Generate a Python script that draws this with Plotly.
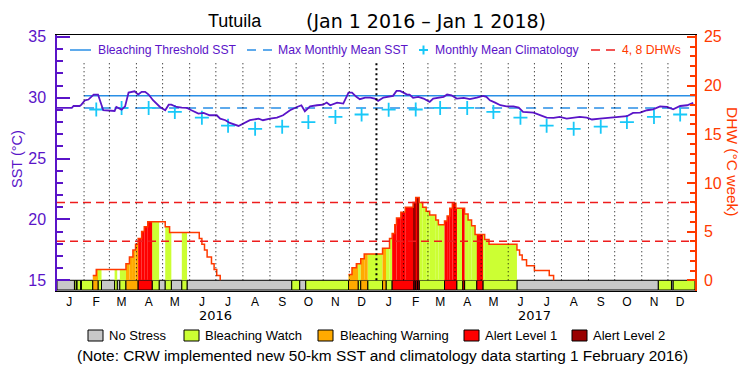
import plotly.graph_objects as go
import pandas as pd

# ---------------- data ----------------
sst_dates = [
    "2016-01-01", "2016-01-18", "2016-01-20", "2016-01-27", "2016-01-29", "2016-02-02", "2016-02-06",
    "2016-02-12", "2016-02-17", "2016-02-19", "2016-02-23", "2016-03-07", "2016-03-09", "2016-03-15",
    "2016-03-19", "2016-03-23", "2016-03-30", "2016-04-03", "2016-04-07", "2016-04-11", "2016-04-15",
    "2016-04-20", "2016-04-28", "2016-05-04", "2016-05-08", "2016-05-11", "2016-05-17", "2016-05-23",
    "2016-05-29", "2016-06-03", "2016-06-11", "2016-06-17", "2016-06-24", "2016-07-02", "2016-07-06",
    "2016-07-12", "2016-07-17", "2016-07-27", "2016-08-02", "2016-08-09", "2016-08-19", "2016-08-24",
    "2016-09-01", "2016-09-09", "2016-09-16", "2016-09-24", "2016-10-02", "2016-10-07", "2016-10-11",
    "2016-10-17", "2016-10-25", "2016-11-01", "2016-11-05", "2016-11-09", "2016-11-17", "2016-11-24",
    "2016-11-30", "2016-12-04", "2016-12-09", "2016-12-13", "2016-12-19", "2016-12-25", "2016-12-30",
    "2017-01-03", "2017-01-09", "2017-01-20", "2017-01-24", "2017-01-28", "2017-02-01", "2017-02-05",
    "2017-02-08", "2017-02-12", "2017-02-18", "2017-02-24", "2017-03-03", "2017-03-07", "2017-03-19",
    "2017-03-23", "2017-03-28", "2017-04-03", "2017-04-11", "2017-04-18", "2017-04-26", "2017-05-03",
    "2017-05-07", "2017-05-11", "2017-05-17", "2017-05-23", "2017-05-30", "2017-06-07", "2017-06-13",
    "2017-06-18", "2017-06-30", "2017-07-07", "2017-07-15", "2017-07-23", "2017-07-30", "2017-08-07",
    "2017-08-15", "2017-08-22", "2017-08-30", "2017-09-05", "2017-09-14", "2017-09-22", "2017-09-29",
    "2017-10-07", "2017-10-15", "2017-10-22", "2017-10-30", "2017-11-07", "2017-11-14", "2017-11-22",
    "2017-11-30", "2017-12-07", "2017-12-15", "2017-12-23", "2017-12-30",
]
sst_values = [
    29.16, 29.16, 29.32, 29.32, 29.43, 29.79, 29.85,
    30.26, 30.26, 29.79, 28.97, 28.91, 29.24, 29.02,
    29.29, 30.42, 30.53, 30.26, 30.48, 30.48, 30.26,
    29.79, 29.24, 28.97, 29.43, 29.43, 29.24, 29.19,
    29.16, 28.97, 28.69, 28.75, 28.56, 28.56, 28.28,
    28.15, 27.93, 27.68, 27.87, 28.15, 28.28, 28.15,
    28.28, 28.37, 28.56, 28.97, 29.24, 29.38, 28.89,
    29.29, 29.38, 29.43, 29.60, 29.38, 29.60, 29.52,
    30.42, 30.42, 30.07, 29.88, 30.01, 30.01, 29.93,
    29.74, 30.01, 30.15, 30.56, 30.56, 30.42, 30.26,
    30.26, 29.99, 30.07, 29.93, 29.66, 29.93, 30.07,
    30.26, 30.20, 29.93, 29.99, 29.88, 30.01, 30.15,
    30.07, 29.79, 29.60, 29.38, 29.29, 29.29, 29.19,
    28.83, 28.78, 28.61, 28.37, 28.34, 28.42, 28.28,
    28.37, 28.42, 28.37, 28.21, 28.28, 28.34, 28.37,
    28.42, 28.48, 28.75, 28.78, 28.97, 29.05, 29.29,
    29.24, 29.05, 29.32, 29.38, 29.57,
]

clim_dates = [
    "2016-02-15", "2016-03-15", "2016-04-15", "2016-05-15", "2016-06-15", "2016-07-15",
    "2016-08-15", "2016-09-15", "2016-10-15", "2016-11-15", "2016-12-15", "2017-01-15",
    "2017-02-15", "2017-03-15", "2017-04-15", "2017-05-15", "2017-06-15", "2017-07-15",
    "2017-08-15", "2017-09-15", "2017-10-15", "2017-11-15", "2017-12-15",
]
clim_values = [
    29.03, 29.16, 29.16, 28.83, 28.36, 27.70,
    27.44, 27.62, 28.00, 28.42, 28.62, 29.02,
    29.03, 29.16, 29.16, 28.83, 28.36, 27.70,
    27.44, 27.62, 28.00, 28.42, 28.62,
]
mmm_sst = 29.16
bleaching_threshold_sst = 30.16
climatology_start = "2016-02-01"

dhw_dates = [
    "2016-01-01", "2016-02-11", "2016-02-15", "2016-03-20", "2016-03-24", "2016-03-28", "2016-03-31",
    "2016-04-03", "2016-04-07", "2016-04-10", "2016-04-14", "2016-05-04", "2016-05-09", "2016-06-12",
    "2016-06-15", "2016-06-18", "2016-06-21", "2016-06-26", "2016-06-29", "2016-07-02", "2016-07-06",
    "2016-11-30", "2016-12-04", "2016-12-09", "2016-12-14", "2016-12-18", "2017-01-08", "2017-01-16",
    "2017-01-19", "2017-01-22", "2017-01-24", "2017-01-29", "2017-02-03", "2017-02-12", "2017-02-15",
    "2017-02-19", "2017-02-23", "2017-02-27", "2017-03-03", "2017-03-10", "2017-03-13", "2017-03-20",
    "2017-03-23", "2017-03-26", "2017-03-29", "2017-04-02", "2017-04-12", "2017-04-16", "2017-04-20",
    "2017-04-24", "2017-05-05", "2017-05-10", "2017-06-11", "2017-06-14", "2017-06-17", "2017-06-22",
    "2017-07-01", "2017-07-18", "2017-07-23",
]
dhw_values = [
    0.0, 0.5, 1.1, 1.7, 2.4, 3.1, 3.7,
    4.3, 5.0, 5.5, 6.0, 5.5, 4.9, 4.3,
    3.7, 3.1, 2.4, 1.7, 1.1, 0.5, 0.0,
    0.6, 1.3, 1.7, 2.2, 2.7, 3.3, 4.3,
    4.8, 5.7, 6.4, 7.0, 7.5, 8.0, 8.5,
    8.0, 7.5, 7.1, 6.7, 6.2, 5.7, 6.1,
    6.6, 7.4, 7.9, 7.4, 6.8, 6.2, 5.6,
    4.7, 4.2, 3.7, 3.1, 2.6, 2.1, 1.5,
    1.0, 0.5, 0.0,
]
dhw_levels = [4, 8]

stress_start = [
    "2016-01-01", "2016-01-21", "2016-01-23", "2016-01-24", "2016-01-28", "2016-01-29", "2016-02-11",
    "2016-02-17", "2016-02-21", "2016-03-07", "2016-03-10", "2016-03-13", "2016-03-20", "2016-04-03",
    "2016-04-19", "2016-04-27", "2016-05-04", "2016-05-11", "2016-05-23", "2016-05-29", "2016-09-26",
    "2016-10-05", "2016-10-12", "2016-11-30", "2016-12-11", "2016-12-14", "2016-12-22", "2017-01-08",
    "2017-01-12", "2017-01-19", "2017-02-13", "2017-02-15", "2017-02-17", "2017-02-19", "2017-03-20",
    "2017-04-03", "2017-04-10", "2017-04-12", "2017-04-26", "2017-05-03", "2017-06-11", "2017-11-20",
    "2017-12-05", "2017-12-07",
]
stress_level = [
    0, 1, 0, 1, 0, 1, 2,
    1, 0, 1, 0, 1, 2, 3,
    1, 0, 1, 0, 1, 0, 1,
    0, 1, 2, 1, 2, 1, 2,
    1, 3, 4, 3, 4, 1, 3,
    1, 3, 1, 3, 1, 0, 1,
    0, 1,
]
stress_names = ["No Stress", "Bleaching Watch", "Bleaching Warning", "Alert Level 1", "Alert Level 2"]
month_letters = ["J", "F", "M", "A", "M", "J", "J", "A", "S", "O", "N", "D"] * 2
year_labels = ["2016", "2017"]
period_start = "2016-01-01"
period_end = "2018-01-01"

# ---------------- style ----------------
W, H = 750, 375
L, R, T, B = 57, 55, 35, 84
PW, PH = W - L - R, H - T - B
FONT = "Liberation Sans"
PURPLE = "#5a14c8"
BLUE = "#2a8fe6"
CYAN = "#18c8f8"
ORANGE_RED = "#ff3a00"
RED_DASH = "#ee1c1c"
stress_colors = ["#c8c8c8", "#ccff33", "#ffaa00", "#ff0000", "#990000"]


def pxx(xp):
    return (xp - L) / PW


def pxy(yp):
    return (H - B - yp) / PH


t0 = pd.Timestamp(period_start)
t1 = pd.Timestamp(period_end)
s_start = list(pd.to_datetime(stress_start))
s_end = s_start[1:] + [t1]
d_t = list(pd.to_datetime(dhw_dates))

fig = go.Figure()

# SST related (primary axis)
fig.add_trace(go.Scatter(x=[climatology_start, period_end], y=[bleaching_threshold_sst] * 2,
                         mode="lines", line=dict(color=BLUE, width=1.5), yaxis="y", hoverinfo="skip"))
fig.add_trace(go.Scatter(x=[climatology_start, period_end], y=[mmm_sst] * 2,
                         mode="lines", line=dict(color=BLUE, width=1.5, dash="10px,7px"), yaxis="y",
                         hoverinfo="skip"))
fig.add_trace(go.Scatter(x=clim_dates, y=clim_values, mode="markers",
                         marker=dict(symbol="cross-thin", size=10, line=dict(color=CYAN, width=1.8)),
                         yaxis="y", hoverinfo="skip"))
fig.add_trace(go.Scatter(x=sst_dates, y=sst_values, mode="lines",
                         line=dict(color=PURPLE, width=1.8), yaxis="y", hoverinfo="skip"))

# stress band (secondary axis, below DHW 0)
for lvl in range(5):
    xs, ws = [], []
    for a, b, l in zip(s_start, s_end, stress_level):
        if l == lvl:
            xs.append(a)
            ws.append((b - a).total_seconds() * 1000)
    if xs:
        fig.add_trace(go.Bar(x=xs, y=[1.0] * len(xs), base=-1.0, width=ws, offset=0, yaxis="y2",
                             marker=dict(color=stress_colors[lvl], line=dict(color="black", width=1)),
                             hoverinfo="skip"))


def value_at(times, vals, t):
    v = vals[0]
    for tt, vv in zip(times, vals):
        if tt <= t:
            v = vv
        else:
            break
    return v


# DHW fill coloured by stress level
bps = sorted(set(s_start) | set(d_t) | {t1})
fill = {l: ([], [], []) for l in range(1, 5)}
for a, b in zip(bps[:-1], bps[1:]):
    lvl = value_at(s_start, stress_level, a)
    dv = value_at(d_t, dhw_values, a)
    if lvl > 0 and dv > 0:
        fill[lvl][0].append(a)
        fill[lvl][1].append(dv)
        fill[lvl][2].append((b - a).total_seconds() * 1000)
for lvl in range(1, 5):
    xs, ys, ws = fill[lvl]
    if xs:
        fig.add_trace(go.Bar(x=xs, y=ys, base=0, width=ws, offset=0, yaxis="y2",
                             marker=dict(color=stress_colors[lvl], line=dict(width=0)), hoverinfo="skip"))

# DHW line: draw only positive runs (plus the drop back to zero)
dx, dy = [], []
for i, (t, v) in enumerate(zip(dhw_dates, dhw_values)):
    prev = dhw_values[i - 1] if i > 0 else 0
    if v > 0:
        dx.append(t)
        dy.append(v)
    elif prev > 0:
        dx.append(t)
        dy.append(v)
        dx.append(t)
        dy.append(None)
fig.add_trace(go.Scatter(x=dx, y=dy, mode="lines", line=dict(color=ORANGE_RED, width=1.5, shape="hv"),
                         yaxis="y2", connectgaps=False, hoverinfo="skip"))
for lv in dhw_levels:
    fig.add_trace(go.Scatter(x=[period_start, period_end], y=[lv, lv], mode="lines",
                             line=dict(color=RED_DASH, width=1.5, dash="8px,5px"), yaxis="y2", hoverinfo="skip"))

# month grid lines
shapes = []
month_starts = pd.date_range(t0, t1, freq="MS")
for m in month_starts[1:-1]:
    yr = m.month == 1
    shapes.append(dict(type="line", xref="x", yref="y", x0=m, x1=m, y0=15, y1=32.9, layer="above",
                       line=dict(color="black", width=2 if yr else 1, dash="1px,3px" if not yr else "2px,3px")))

# top legend
ly = pxy(50)
shapes.append(dict(type="line", xref="paper", yref="paper", x0=pxx(70), x1=pxx(91), y0=ly, y1=ly,
                   line=dict(color=BLUE, width=1.5)))
shapes.append(dict(type="line", xref="paper", yref="paper", x0=pxx(247), x1=pxx(272), y0=ly, y1=ly,
                   line=dict(color=BLUE, width=1.5, dash="9px,7px")))
shapes.append(dict(type="line", xref="paper", yref="paper", x0=pxx(419), x1=pxx(428), y0=ly, y1=ly,
                   line=dict(color=CYAN, width=2)))
shapes.append(dict(type="line", xref="paper", yref="paper", x0=pxx(423.5), x1=pxx(423.5), y0=pxy(45.5),
                   y1=pxy(54.5), line=dict(color=CYAN, width=2)))
shapes.append(dict(type="line", xref="paper", yref="paper", x0=pxx(591), x1=pxx(615), y0=ly, y1=ly,
                   line=dict(color=RED_DASH, width=1.5, dash="9px,6px")))

annotations = []
for txt, xp, col in [("Bleaching Threshold SST", 96, PURPLE), ("Max Monthly Mean SST", 276, PURPLE),
                     ("Monthly Mean Climatology", 433, PURPLE), ("4, 8 DHWs", 620, ORANGE_RED)]:
    annotations.append(dict(text=txt, x=pxx(xp), y=ly, xref="paper", yref="paper", xanchor="left",
                            yanchor="middle", showarrow=False, font=dict(family=FONT, size=12.2, color=col)))

# bottom legend
box_x = [88, 184, 318, 464, 572]
text_x = [107, 203, 338, 483, 591]
for i, name in enumerate(stress_names):
    shapes.append(dict(type="rect", xref="paper", yref="paper", x0=pxx(box_x[i]), x1=pxx(box_x[i] + 15),
                       y0=pxy(341), y1=pxy(330), fillcolor=stress_colors[i], line=dict(color="black", width=1)))
    annotations.append(dict(text=name, x=pxx(text_x[i]), y=pxy(335.5), xref="paper", yref="paper",
                            xanchor="left", yanchor="middle", showarrow=False,
                            font=dict(family=FONT, size=13, color="black")))

annotations.append(dict(text="(Note: CRW implemented new 50-km SST and climatology data starting 1 February 2016)",
                        x=pxx(382.5), y=pxy(355), xref="paper", yref="paper", xanchor="center", yanchor="middle",
                        showarrow=False, font=dict(family=FONT, size=15.4, color="black")))

# title
annotations.append(dict(text="Tutuila", x=pxx(234.5), y=pxy(21), xref="paper", yref="paper",
                        xanchor="center", yanchor="middle", showarrow=False,
                        font=dict(family=FONT, size=18, color="black")))
annotations.append(dict(text="(Jan 1 2016 \u2013 Jan 1 2018)", x=pxx(425.5), y=pxy(21), xref="paper", yref="paper",
                        xanchor="center", yanchor="middle", showarrow=False,
                        font=dict(family="DejaVu Sans", size=19, color="black")))

# axis titles
annotations.append(dict(text="SST (\u00b0C)", x=pxx(17), y=pxy(159), xref="paper", yref="paper",
                        xanchor="center", yanchor="middle", textangle=-90, showarrow=False,
                        font=dict(family=FONT, size=14.5, color=PURPLE)))
annotations.append(dict(text="DHW (\u00b0C week)", x=pxx(733), y=pxy(162), xref="paper", yref="paper",
                        xanchor="center", yanchor="middle", textangle=90, showarrow=False,
                        font=dict(family=FONT, size=15.5, color=ORANGE_RED)))

# year labels
for yl in year_labels:
    annotations.append(dict(text=yl, x=pd.Timestamp(yl + "-07-01"), y=pxy(315), xref="x", yref="paper",
                            xanchor="center", yanchor="middle", showarrow=False,
                            font=dict(family="DejaVu Sans", size=13, color="black")))

tickvals = list(month_starts[:-1] + pd.Timedelta(days=14))

fig.update_layout(
    width=W, height=H,
    margin=dict(l=L, r=R, t=T, b=B, pad=0),
    paper_bgcolor="white", plot_bgcolor="white",
    showlegend=False, barmode="overlay",
    shapes=shapes, annotations=annotations,
    xaxis=dict(type="date", range=[t0, t1], tickmode="array", tickvals=tickvals, ticktext=month_letters,
               ticks="", showgrid=False, zeroline=False, showline=True, linecolor="black", linewidth=1,
               mirror=True, tickfont=dict(family=FONT, size=12, color="black")),
    yaxis=dict(range=[14.12, 35.152], tickmode="linear", tick0=15, dtick=5, ticks="inside", ticklen=13,
               tickwidth=1.5, tickcolor=PURPLE, showline=True, linecolor=PURPLE, linewidth=1.5,
               showgrid=False, zeroline=False, ticklabelstandoff=6,
               tickfont=dict(family=FONT, size=16, color=PURPLE),
               minor=dict(tickmode="linear", tick0=15, dtick=1, ticks="inside", ticklen=6, tickwidth=1.5,
                          tickcolor=PURPLE, showgrid=False)),
    yaxis2=dict(overlaying="y", side="right", range=[-1.1, 25.19], tickmode="linear", tick0=0, dtick=5,
                ticks="inside", ticklen=8, tickwidth=1.5, tickcolor=ORANGE_RED, showline=True,
                linecolor=ORANGE_RED, linewidth=1.5, showgrid=False, zeroline=False, ticklabelstandoff=4,
                tickfont=dict(family=FONT, size=16, color=ORANGE_RED),
                minor=dict(tickmode="array", tickvals=list(range(0, 26)), ticks="inside", ticklen=5,
                           tickwidth=1.5, tickcolor=ORANGE_RED, showgrid=False)),
)

fig.write_html("out.html", config={"displayModeBar": False},
               post_script="document.body.style.margin='0';")
